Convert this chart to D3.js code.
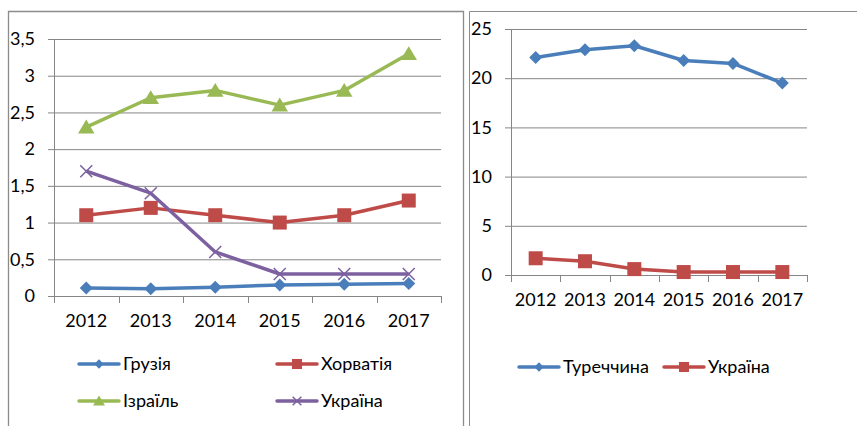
<!DOCTYPE html>
<meta charset="utf-8">
<script src="https://d3js.org/d3.v7.min.js"></script>
<style>
  body { margin: 0; background: #fff; }
  text { font-family: Lato, "Open Sans", sans-serif; font-size: 18px; fill: #000; }
</style>
<div id="chart"></div>
<script>
    // data
    var years = ["2012", "2013", "2014", "2015", "2016", "2017"];

    var georgia = [0.11, 0.10, 0.12, 0.15, 0.16, 0.17];
    var croatia = [1.1, 1.2, 1.1, 1.0, 1.1, 1.3];
    var israel = [2.3, 2.7, 2.8, 2.6, 2.8, 3.3];
    var ukraineLeft = [1.7, 1.4, 0.6, 0.3, 0.3, 0.3];
    var leftTicks = [0, 0.5, 1, 1.5, 2, 2.5, 3, 3.5];

    var turkey = [22.1, 22.9, 23.3, 21.8, 21.5, 19.5];
    var ukraineRight = [1.7, 1.4, 0.6, 0.3, 0.3, 0.3];
    var rightTicks = [0, 5, 10, 15, 20, 25];

    var blue = "#4a7ebb", red = "#be4b48", green = "#98b954", purple = "#7d60a0";
    var grid = "#868686";

    var svg = d3.select("#chart").append("svg")
        .attr("width", 857)
        .attr("height", 426);

    // chart frames
    svg.append("path")
        .attr("d", "M8.5,430V11.5H463.5V430")
        .attr("fill", "none").attr("stroke", "#8c8c8c").attr("stroke-width", 1.3);
    svg.append("path")
        .attr("d", "M469.5,430V11.5H860")
        .attr("fill", "none").attr("stroke", "#8c8c8c").attr("stroke-width", 1);

    // marker shapes
    function marker(type, s) {
        if (type == "diamond") return "M0," + (-s) + "L" + s + ",0L0," + s + "L" + (-s) + ",0Z";
        if (type == "square") return "M" + (-s) + "," + (-s) + "h" + (2 * s) + "v" + (2 * s) + "h" + (-2 * s) + "Z";
        if (type == "triangle") return "M0," + (-s) + "L" + (s * 1.1) + "," + (s * 0.85) + "L" + (-s * 1.1) + "," + (s * 0.85) + "Z";
        return "M" + (-s) + "," + (-s) + "L" + s + "," + s + "M" + s + "," + (-s) + "L" + (-s) + "," + s;
    }

    function drawChart(opt) {
        var x = d3.scaleBand().domain(years).range([opt.left, opt.right]);
        var y = d3.scaleLinear().domain([0, d3.max(opt.ticks)]).range([opt.bottom, opt.top]);
        var g = svg.append("g");

        // gridlines + y axis
        g.append("g")
            .attr("transform", "translate(" + opt.left + ",0)")
            .call(d3.axisLeft(y).tickValues(opt.ticks).tickSize(6).tickPadding(opt.pad)
                .tickFormat(function(d) { return String(d).replace(".", ","); }))
            .call(function(a) {
                a.select(".domain").remove();
                a.selectAll("line").attr("stroke", grid).attr("x2", opt.right - opt.left).attr("x1", -6);
                a.selectAll("text").attr("fill", "#000").style("font-size", "18px")
                    .style("font-family", "Lato, 'Open Sans', sans-serif");
            });

        g.append("line")
            .attr("x1", opt.left + 0.5).attr("x2", opt.left + 0.5)
            .attr("y1", y(d3.max(opt.ticks))).attr("y2", opt.bottom + 7)
            .attr("stroke", grid);

        // x ticks on band edges
        var edges = years.map(function(d) { return x(d); }).concat([opt.right]);
        g.selectAll(".xt").data(edges).enter().append("line")
            .attr("x1", function(d) { return Math.round(d) + 0.5; })
            .attr("x2", function(d) { return Math.round(d) + 0.5; })
            .attr("y1", opt.bottom).attr("y2", opt.bottom + 7)
            .attr("stroke", grid);

        g.selectAll(".xl").data(years).enter().append("text")
            .attr("x", function(d) { return x(d) + x.bandwidth() / 2; })
            .attr("y", opt.bottom + 31)
            .attr("text-anchor", "middle")
            .text(function(d) { return d; });

        // series
        var line = d3.line()
            .x(function(d, i) { return x(years[i]) + x.bandwidth() / 2; })
            .y(function(d) { return y(d); });

        opt.series.forEach(function(s) {
            g.append("path")
                .attr("d", line(s.values))
                .attr("fill", "none").attr("stroke", s.color).attr("stroke-width", 3.5)
                .attr("stroke-linejoin", "round");
            g.selectAll(null).data(s.values).enter().append("path")
                .attr("transform", function(d, i) {
                    return "translate(" + (x(years[i]) + x.bandwidth() / 2) + "," + y(d) + ")";
                })
                .attr("d", marker(s.shape, s.size))
                .attr("fill", s.shape == "x" ? "none" : s.color)
                .attr("stroke", s.color)
                .attr("stroke-width", s.shape == "x" ? 1.5 : 0);

            // legend
            var lg = g.append("g").attr("transform", "translate(" + s.lx + "," + s.ly + ")");
            lg.append("line").attr("x1", 0).attr("x2", 40)
                .attr("stroke", s.color).attr("stroke-width", 3.5).attr("stroke-linecap", "round");
            lg.append("path").attr("transform", "translate(20,0)")
                .attr("d", marker(s.shape, s.size * 0.72))
                .attr("fill", s.shape == "x" ? "none" : s.color)
                .attr("stroke", s.color).attr("stroke-width", s.shape == "x" ? 1.5 : 0);
            lg.append("text").attr("x", 44).attr("y", 6).text(s.name);
        });
    }

    drawChart({
        left: 54, right: 441, top: 39, bottom: 296, pad: 13,
        ticks: leftTicks,
        series: [
            { name: "Грузія", values: georgia, color: blue, shape: "diamond", size: 6.5, lx: 79, ly: 364 },
            { name: "Хорватія", values: croatia, color: red, shape: "square", size: 7, lx: 277, ly: 364 },
            { name: "Ізраїль", values: israel, color: green, shape: "triangle", size: 7.5, lx: 79, ly: 401 },
            { name: "Україна", values: ukraineLeft, color: purple, shape: "x", size: 6, lx: 277, ly: 401 }
        ]
    });

    drawChart({
        left: 511, right: 807, top: 29, bottom: 275, pad: 13,
        ticks: rightTicks,
        series: [
            { name: "Туреччина", values: turkey, color: blue, shape: "diamond", size: 6.5, lx: 519, ly: 367 },
            { name: "Україна", values: ukraineRight, color: red, shape: "square", size: 7, lx: 664, ly: 367 }
        ]
    });
</script>
